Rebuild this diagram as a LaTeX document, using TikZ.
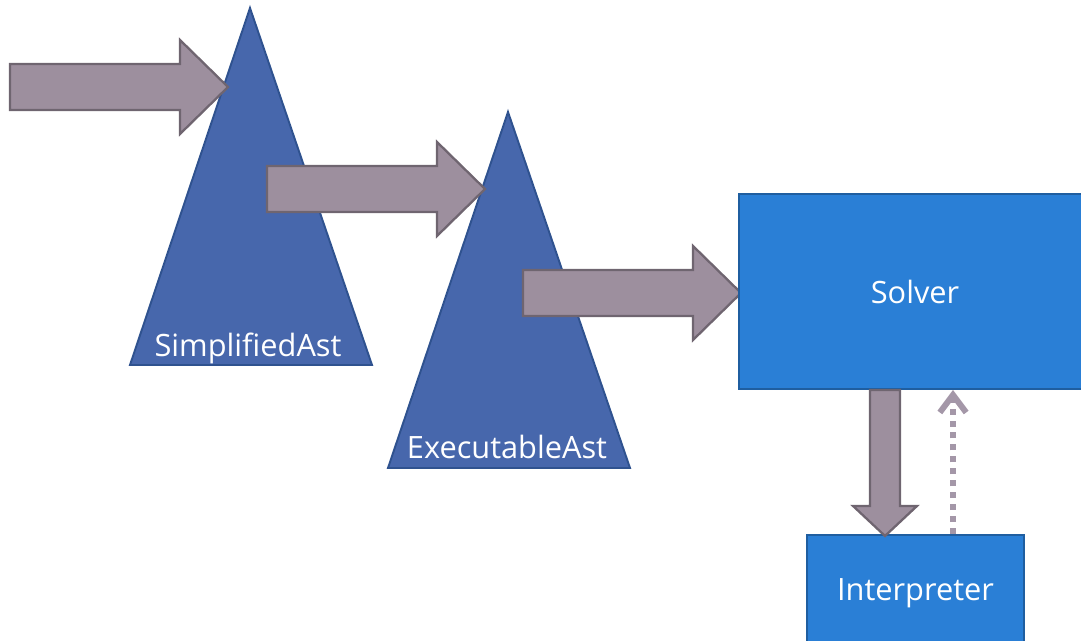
\documentclass[tikz,border=0pt]{standalone}
\usepackage{fontspec}
\setmainfont{Open Sans}
\usetikzlibrary{arrows.meta}

\definecolor{astblue}{RGB}{71,103,172}
\definecolor{astedge}{RGB}{47,82,143}
\definecolor{flowfill}{RGB}{157,143,158}
\definecolor{flowedge}{RGB}{111,101,112}
\definecolor{stageblue}{RGB}{42,127,214}
\definecolor{stageedge}{RGB}{31,94,160}
\definecolor{backflow}{RGB}{164,151,168}

% fat arrow from a tail point, 170 px shaft and 48 px head
\newcommand{\fatarrow}[1]{%
  \draw[flow] (#1) ++(0,-23) -- ++(170,0) -- ++(0,-24) -- ++(48,47)
    -- ++(-48,47) -- ++(0,-24) -- ++(-170,0) -- cycle;}

\begin{document}
\begin{tikzpicture}[x=0.02cm,y=-0.02cm,
  ast/.style={fill=astblue,draw=astedge,line width=1.1pt,line join=miter},
  flow/.style={fill=flowfill,draw=flowedge,line width=1.3pt,line join=miter},
  stage/.style={rectangle,fill=stageblue,draw=stageedge,line width=1.1pt,
    text=white,text depth=0pt,font=\fontsize{17.5}{21}\selectfont},
  astlabel/.style={text=white,inner sep=0pt,anchor=base,
    font=\fontsize{17.5}{21}\selectfont},
  feedback/.style={draw=backflow,line width=3.4pt,dash pattern=on 3.4pt off 3.4pt,
    -{Straight Barb[length=10pt,width=15pt,line width=3.4pt]}}]

  \clip (0,0) rectangle (1081,641);

  % the two trees
  \draw[ast] (250,8) -- (372,365) -- (130,365) -- cycle;
  \node[astlabel] (simp) at (248,357) {SimplifiedAst};
  \draw[ast] (508,112) -- (630,468) -- (388,468) -- cycle;
  \node[astlabel] (exec) at (507,459) {ExecutableAst};

  % steps between them
  \coordinate (source) at (10,87);
  \coordinate (simptail) at (267,189);
  \coordinate (exectail) at (523,293);
  \fatarrow{source}
  \fatarrow{simptail}
  \fatarrow{exectail}

  \node[stage,minimum width=7.04cm,minimum height=3.9cm] (solver) at (915,291.5) {Solver};
  \node[stage,minimum width=4.34cm,minimum height=2.2cm] (interp) at (915.5,590) {Interpreter};

  % call and answer
  \coordinate (down) at ([xshift=-0.6cm]solver.south);
  \draw[flow] (down) ++(-15,0) -- ++(0,116) -- ++(-17,0) -- ++(32,30)
    -- ++(32,-30) -- ++(-17,0) -- ++(0,-116) -- cycle;
  \draw[feedback] ([xshift=0.75cm]interp.north) -- ([xshift=0.75cm]interp.north |- solver.south);
\end{tikzpicture}
\end{document}
